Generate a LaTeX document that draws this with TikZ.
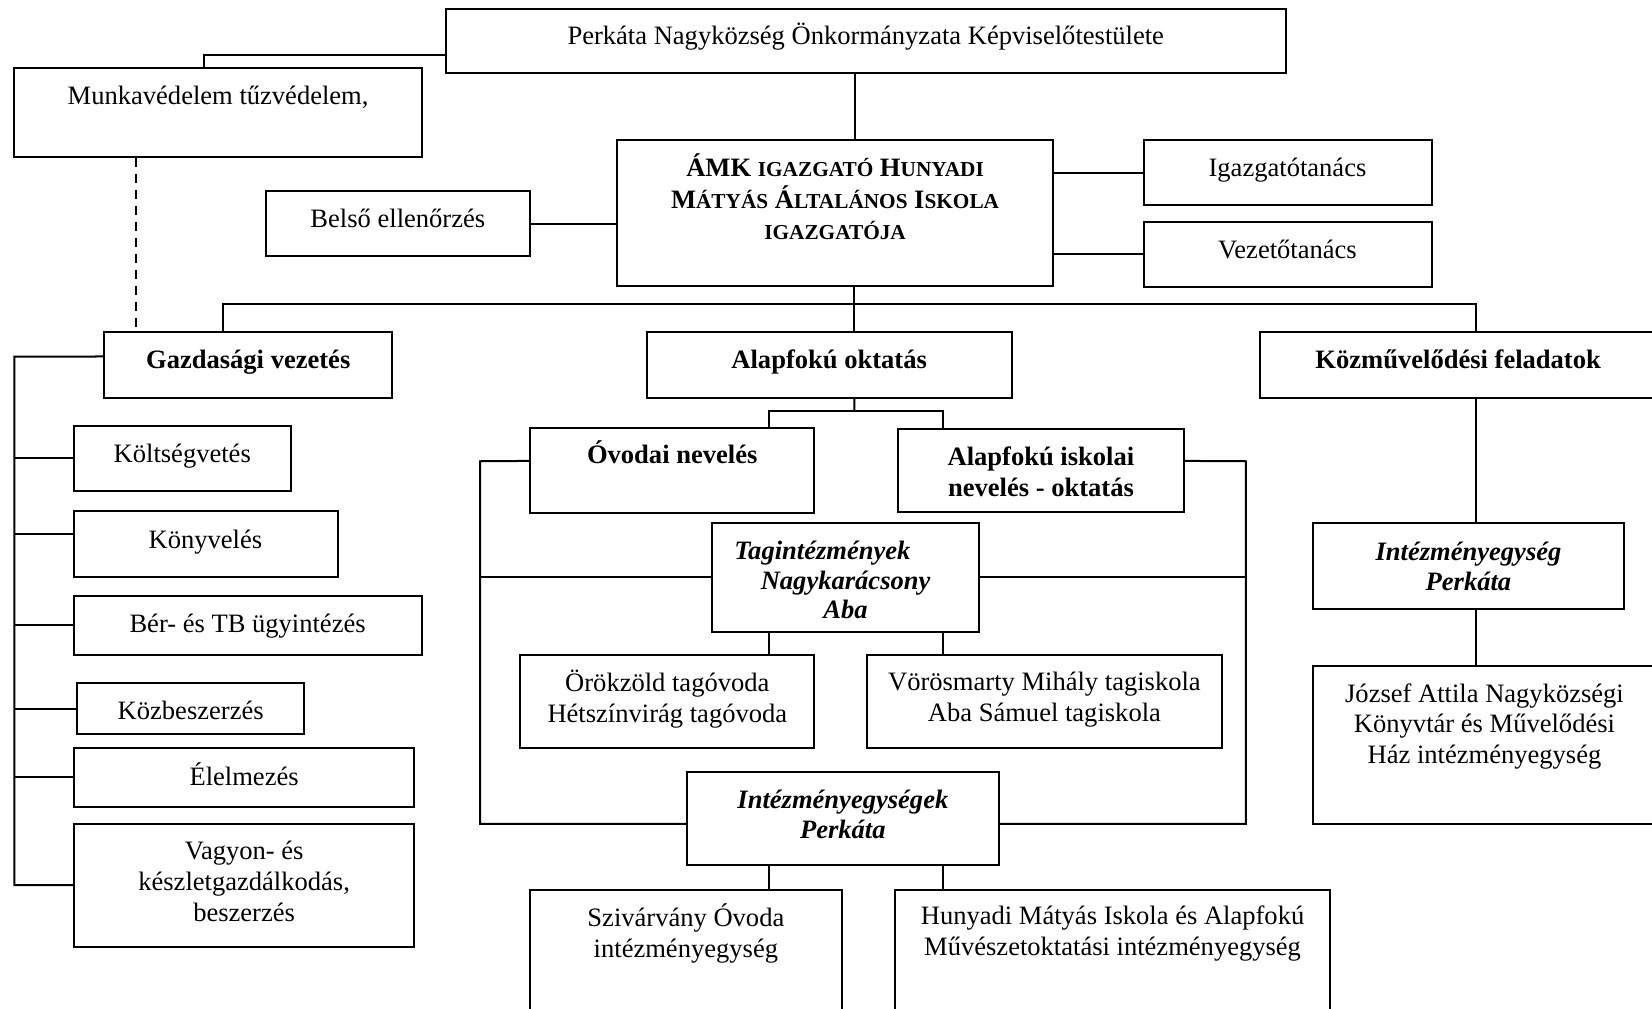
\documentclass[tikz,border=0pt]{standalone}
\usepackage{fontspec}
\setmainfont{Liberation Serif}
\usetikzlibrary{fit,calc}
\newcommand\mlines[1]{\begin{tabular}[t]{@{}c@{}}#1\end{tabular}}
\newcommand\mysc[1]{{\fontsize{10.1}{14.7}\selectfont #1}}
\begin{document}
\begin{tikzpicture}[x=0.5pt, y=-0.5pt, line width=0.95pt,
  box/.style={draw, inner sep=0pt, line width=0.95pt},
  txt/.style={anchor=base, inner sep=0pt, yshift=-0.7pt, font=\fontsize{12.6}{14.7}\selectfont},
  btxt/.style={txt, font=\fontsize{12.6}{14.7}\selectfont\bfseries},
  bitxt/.style={txt, font=\fontsize{12.6}{14}\selectfont\bfseries\itshape},
  dashline/.style={dash pattern=on 4.3pt off 3.3pt}]
\useasboundingbox (0,0) rectangle (1568,957);
\clip (0,0) rectangle (1568,957);
% boxes
\node[box, fit={(423,8.5) (1220.4,69.6)}] (top) {};
\node[box, fit={(13.6,64.2) (400.5,148.7)}] (munk) {};
\node[box, fit={(585.4,133.2) (999.8,271.5)}] (amk) {};
\node[box, fit={(252.2,181.3) (503,243)}] (belso) {};
\node[box, fit={(1085.4,132.9) (1358.9,194.6)}] (igaz) {};
\node[box, fit={(1085.4,210.4) (1358.9,272.1)}] (vez) {};
\node[box, fit={(99,314.8) (372.3,377.4)}] (gazd) {};
\node[box, fit={(614,314.8) (960.5,377.4)}] (alap) {};
\node[box, fit={(1195.7,314.8) (1572,377.4)}] (kozm) {};
\node[box, fit={(70,404) (276.3,465.7)}] (kolt) {};
\node[box, fit={(70,485) (320.5,547.4)}] (konyv) {};
\node[box, fit={(70,565.4) (400.5,621.4)}] (ber) {};
\node[box, fit={(73.4,648) (289,697)}] (kozb) {};
\node[box, fit={(70,710) (393.4,765.6)}] (elel) {};
\node[box, fit={(70,781.7) (393.4,898.4)}] (vagy) {};
\node[box, fit={(503,406.1) (772.8,487.1)}] (ovo) {};
\node[box, fit={(852.3,407.2) (1123.7,486.4)}] (aisk) {};
\node[box, fit={(675.8,496.7) (929.4,599.4)}] (tag) {};
\node[box, fit={(493.9,621.8) (772.8,710.1)}] (orok) {};
\node[box, fit={(822.6,621.8) (1160,710.1)}] (voro) {};
\node[box, fit={(652.2,733) (948,821.3)}] (inte) {};
\node[box, fit={(503,844.5) (799,975)}] (sziv) {};
\node[box, fit={(849.3,844.5) (1262.6,975)}] (huny) {};
\node[box, fit={(1246,496.7) (1541.6,577.6)}] (intp) {};
\node[box, fit={(1246,632.1) (1572,781.9)}] (jozs) {};
% texts
\node[txt] (ttop) at (821.7,41) {Perkáta Nagyközség Önkormányzata Képviselőtestülete};
\node[txt] (tmunk) at (207,98) {Munkavédelem tűzvédelem,};
\node[txt] (tbelso) at (377.6,215) {Belső ellenőrzés};
\node[btxt] (tamk) at (792.6,166) {\mlines{ÁMK \mysc{IGAZGATÓ} H\mysc{UNYADI}\\M\mysc{ÁTYÁS} Á\mysc{LTALÁNOS} I\mysc{SKOLA}\\\mysc{IGAZGATÓJA}}};
\node[txt] (tigaz) at (1222,166) {Igazgatótanács};
\node[txt] (tvez) at (1222,243.6) {Vezetőtanács};
\node[btxt] (tgazd) at (235.6,348) {Gazdasági vezetés};
\node[btxt] (talap) at (787,348) {Alapfokú oktatás};
\node[btxt] (tkozm) at (1384,348) {Közművelődési feladatok};
\node[txt] (tkolt) at (173,437.5) {Költségvetés};
\node[txt] (tkonyv) at (195,518.8) {Könyvelés};
\node[txt] (tber) at (235,599.4) {Bér- és TB ügyintézés};
\node[txt] (tkozb) at (181,681.5) {Közbeszerzés};
\node[txt] (telel) at (231.7,744) {Élelmezés};
\node[txt] (tvagy) at (231.7,814.5) {\mlines{Vagyon- és\\készletgazdálkodás,\\beszerzés}};
\node[btxt] (tovo) at (638,438.5) {Óvodai nevelés};
\node[btxt] (taisk) at (988,440.4) {\mlines{Alapfokú iskolai\\nevelés - oktatás}};
\node[bitxt] (ttag) at (802.6,529.8) {\mlines{Tagintézmények\hspace*{22pt}\\Nagykarácsony\\Aba}};
\node[bitxt] (tinte) at (800,766) {\mlines{Intézményegységek\\Perkáta}};
\node[txt] (torok) at (633.4,655) {\mlines{Örökzöld tagóvoda\\Hétszínvirág tagóvoda}};
\node[txt] (tvoro) at (991.3,653.8) {\mlines{Vörösmarty Mihály tagiskola\\Aba Sámuel tagiskola}};
\node[txt] (tsziv) at (651,878.3) {\mlines{Szivárvány Óvoda\\intézményegység}};
\node[txt] (thuny) at (1056,876.5) {\mlines{Hunyadi Mátyás Iskola és Alapfokú\\Művészetoktatási intézményegység}};
\node[bitxt] (tintp) at (1393.8,530.6) {\mlines{Intézményegység\\Perkáta}};
\node[txt] (tjozs) at (1409,664.9) {\mlines{József Attila Nagyközségi\\Könyvtár és Művelődési\\Ház intézményegység}};
% connectors
\draw ($(top.north west)!0.705!(top.south west)$) -| ($(munk.north west)!0.465!(munk.north east)$);
\coordinate (md) at ($(munk.south west)!0.3!(munk.south east)$);
\draw[dashline] (md) -- (md |- gazd.north);
\coordinate (v1) at ($(top.south west)!0.487!(top.south east)$);
\draw (v1) -- (v1 |- amk.north);
\draw (belso.east) -- (belso.east -| amk.west);
\draw (igaz.west -| amk.east) -- (igaz.west);
\draw (vez.west -| amk.east) -- (vez.west);
\coordinate (v2) at ($(amk.south west)!0.544!(amk.south east)$);
\draw (v2) -- (v2 |- alap.north);
\coordinate (gtop) at ($(gazd.north west)!0.413!(gazd.north east)$);
\coordinate (ktop) at ($(kozm.north west)!0.5445!(kozm.north east)$);
\coordinate (busy) at ($(v2)!0.39!(v2 |- alap.north)$);
\draw (gtop) |- (busy) -| (ktop);
\draw (ktop |- kozm.south) -- (ktop |- intp.north);
\draw (ktop |- intp.south) -- (ktop |- jozs.north);
% left rail of Gazdasagi
\coordinate (gl) at ($(gazd.north west)!0.38!(gazd.south west)$);
\coordinate (lrail) at (13.6,338.5);
\draw (gl) -- (lrail) -- (lrail |- vagy.west) -- (vagy.west);
\draw (lrail |- kolt.west) -- (kolt.west);
\coordinate (kyl) at ($(konyv.north west)!0.357!(konyv.south west)$);
\draw (lrail |- kyl) -- (kyl);
\draw (lrail |- ber.west) -- (ber.west);
\draw (lrail |- kozb.west) -- (kozb.west);
\draw (lrail |- elel.west) -- (elel.west);
% education subtree
\coordinate (cL) at ($(ovo.north west)!0.84!(ovo.north east)$);
\coordinate (cR) at ($(aisk.north west)!0.16!(aisk.north east)$);
\coordinate (b2) at ($(v2 |- alap.south)!0.456!(v2 |- ovo.north)$);
\draw (v2 |- alap.south) -- (b2);
\draw (cL) |- (b2) -| (cR);
\draw (cL |- tag.south) -- (cL |- orok.north);
\draw (cR |- tag.south) -- (cR |- voro.north);
\draw (cL |- inte.south) -- (cL |- sziv.north);
\draw (cR |- inte.south) -- (cR |- huny.north);
\coordinate (ovl) at ($(ovo.north west)!0.39!(ovo.south west)$);
\coordinate (intl) at ($(inte.north west)!0.554!(inte.south west)$);
\coordinate (lb) at (455.7,437.8);
\draw (ovl) -- (lb) |- (intl);
\draw (lb |- tag.west) -- (tag.west);
\coordinate (aiskr) at ($(aisk.north east)!0.385!(aisk.south east)$);
\coordinate (intr) at ($(inte.north east)!0.554!(inte.south east)$);
\coordinate (rb) at (1182.6,437.8);
\draw (aiskr) -- (rb) |- (intr);
\draw (rb |- tag.east) -- (tag.east);
\end{tikzpicture}
\end{document}
